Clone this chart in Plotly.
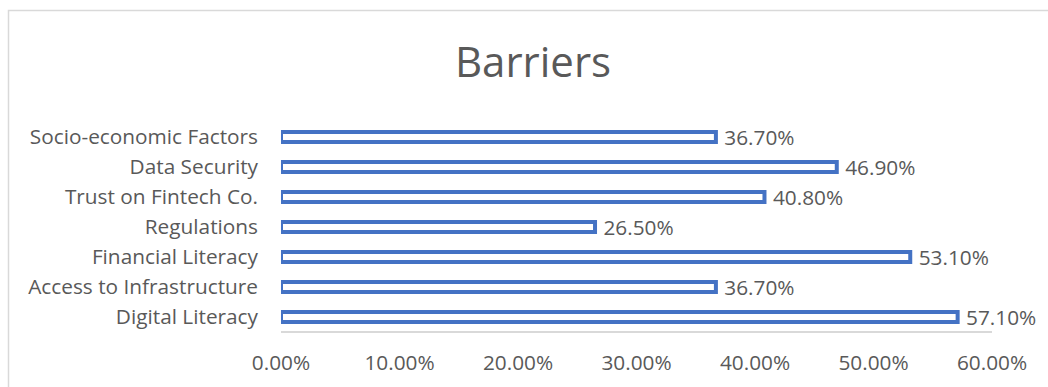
import plotly.graph_objects as go

categories = ["Digital Literacy", "Access to Infrastructure", "Financial Literacy",
              "Regulations", "Trust on Fintech Co.", "Data Security", "Socio-economic Factors"]
values = [0.571, 0.367, 0.531, 0.265, 0.408, 0.469, 0.367]
tick_vals = [0, 0.1, 0.2, 0.3, 0.4, 0.5, 0.6]
tick_text = ["0.00%", "10.00%", "20.00%", "30.00%", "40.00%", "50.00%", "60.00%"]
title_text = "Barriers"

W, H = 1048, 387
ML, MR, MT, MB = 281, 56, 122, 55
FONT = "Open Sans"
GRAY = "#595959"
FS = 20.8

fig = go.Figure(go.Bar(
    y=categories, x=values, orientation="h",
    marker=dict(color="white", line=dict(color="#4472C4", width=4)),
    width=0.34,
    text=["\u00a0" + f"{v*100:.2f}%" for v in values],
    textposition="outside",
    constraintext="none",
    textfont=dict(family=FONT, size=FS, color=GRAY),
    cliponaxis=False,
))

pw = W - ML - MR
ph = H - MT - MB
fig.add_shape(type="rect", xref="paper", yref="paper",
              x0=(8.5 - ML) / pw, x1=(1060 - ML) / pw,
              y0=-(400 - (H - MB)) / ph, y1=1 + (MT - 10.5) / ph,
              line=dict(color="#D9D9D9", width=1.5), layer="below")
fig.add_shape(type="line", xref="paper", yref="paper", x0=0, x1=1, y0=0, y1=0,
              line=dict(color="#D9D9D9", width=2))

fig.update_layout(
    width=W, height=H,
    margin=dict(l=ML, r=MR, t=MT, b=MB),
    paper_bgcolor="white", plot_bgcolor="white",
    showlegend=False,
    title=dict(text=title_text, x=533 / W, xref="container", xanchor="center",
               y=1 - 62 / H, yref="container", yanchor="middle",
               font=dict(family=FONT, size=42, color=GRAY)),
    xaxis=dict(range=[0, 0.6], tickvals=tick_vals, ticktext=tick_text,
               showgrid=False, zeroline=False, showline=False,
               tickfont=dict(family=FONT, size=FS, color=GRAY), ticks="",
               ticklabelstandoff=16),
    yaxis=dict(showgrid=False, zeroline=False, showline=False,
               tickfont=dict(family=FONT, size=FS, color=GRAY), ticks="",
               ticklabelstandoff=22),
)

fig.write_html("out.html")
